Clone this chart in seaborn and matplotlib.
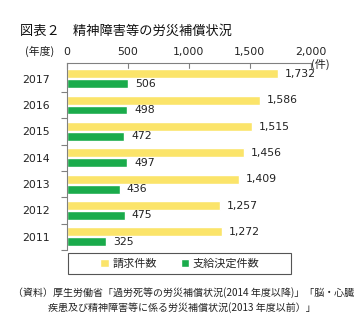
import matplotlib
matplotlib.use("Agg")
import matplotlib.pyplot as plt
import seaborn as sns
import pandas as pd
from matplotlib.patches import Rectangle

years = ["2017", "2016", "2015", "2014", "2013", "2012", "2011"]
claims = [1732, 1586, 1515, 1456, 1409, 1257, 1272]
approved = [506, 498, 472, 497, 436, 475, 325]
series_names = ["請求件数", "支給決定件数"]
x_ticks = [0, 500, 1000, 1500, 2000]
x_tick_labels = ["0", "500", "1,000", "1,500", "2,000"]

df = pd.DataFrame({
    "year": years * 2,
    "value": claims + approved,
    "series": [series_names[0]] * len(years) + [series_names[1]] * len(years),
})

sns.set_theme(style="white")
plt.rcParams["font.family"] = ["Noto Sans CJK JP", "DejaVu Sans"]

fig = plt.figure(figsize=(3.61, 3.31), dpi=100)
ax = fig.add_axes([66.7 / 361, 1 - 250 / 331, 244 / 361, 187 / 331])

palette = {series_names[0]: "#FBE46A", series_names[1]: "#1AAB4B"}
sns.barplot(data=df, y="year", x="value", hue="series", order=years,
            hue_order=series_names, palette=palette, orient="h",
            width=0.74, gap=0.08, saturation=1, ax=ax, legend=True)

handles, labels = ax.get_legend_handles_labels()
ax.get_legend().remove()

for cont in ax.containers:
    ax.bar_label(cont, labels=[f"{int(v):,}" for v in cont.datavalues],
                 padding=5, fontsize=7.8, family="DejaVu Sans", color="#222222")

ax.set_xlim(0, 2000)
ax.set_ylim(6.5, -0.6)
ax.set_xlabel("")
ax.set_ylabel("")

ax.xaxis.tick_top()
ax.set_xticks(x_ticks)
ax.set_xticklabels(x_tick_labels, family="DejaVu Sans", fontsize=7.8, color="#222222")
ax.tick_params(axis="x", direction="in", length=4, width=0.8, color="#808080", pad=4, top=True, bottom=False)

ax.set_yticks(range(len(years)))
ax.set_yticklabels(years, family="DejaVu Sans", fontsize=7.8, color="#222222")
ax.tick_params(axis="y", which="major", length=0, pad=12)
ax.set_yticks([i + 0.5 for i in range(len(years))], minor=True)
ax.tick_params(axis="y", which="minor", direction="out", length=4, width=0.8, color="#808080", left=True)

for s in ["right", "bottom"]:
    ax.spines[s].set_visible(False)
for s in ["top", "left"]:
    ax.spines[s].set_color("#808080")
    ax.spines[s].set_linewidth(0.8)
ax.spines["left"].set_bounds(6.5, -0.6)

# Axis unit labels
fig.text(311 / 361, 1 - 64 / 331, "(件)", fontsize=8, ha="left", va="center", color="#222222")
fig.text(25 / 361, 1 - 51 / 331, "(年度)", fontsize=7.8, ha="left", va="center", color="#222222")

# Title
fig.text(20 / 361, 1 - 31 / 331, "図表２　精神障害等の労災補償状況", fontsize=9.5, ha="left", va="center", color="#111111")

# Legend box
fig.patches.append(Rectangle((68 / 361, 1 - 274 / 331), 223 / 361, 21 / 331,
                             transform=fig.transFigure, fill=False,
                             edgecolor="#555555", linewidth=0.8))
fig.legend(handles, labels, loc="center", bbox_to_anchor=(180 / 361, 1 - 263.5 / 331),
           ncol=2, frameon=False, fontsize=8, handlelength=0.75, handleheight=0.75,
           handletextpad=0.3, columnspacing=2.2, borderpad=0)

# Source note
fig.text(13 / 361, 1 - 293 / 331,
         "（資料）厚生労働省「過労死等の労災補償状況(2014 年度以降)」「脳・心臓",
         fontsize=7.2, ha="left", va="center", color="#222222")
fig.text(48 / 361, 1 - 308 / 331,
         "疾患及び精神障害等に係る労災補償状況(2013 年度以前）」",
         fontsize=7.2, ha="left", va="center", color="#222222")

fig.savefig("out.png", dpi=100)
